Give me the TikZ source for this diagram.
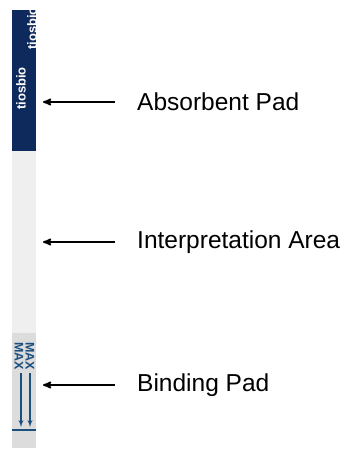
\documentclass[tikz,border=0pt]{standalone}
\usepackage{fontspec}
\setmainfont{Liberation Sans}
\usetikzlibrary{arrows}
\usetikzlibrary{positioning}
\usepackage{xcolor}
\definecolor{stripblue}{HTML}{0E2A5C}
\definecolor{areagrey}{HTML}{EFEFEF}
\definecolor{padgrey}{HTML}{DCDCDC}
\definecolor{maxblue}{HTML}{1B4F7E}

\begin{document}
\begin{tikzpicture}[
        x=1pt, y=-1pt,
        lnode/.style={anchor=west, inner sep=0pt, font=\fontsize{24.5}{28}\selectfont},
        brand/.style={rotate=90, anchor=west, inner sep=0pt, text=white, font=\bfseries\fontsize{13}{14}\selectfont},
        maxmark/.style={rotate=-90, anchor=west, inner sep=0pt, text=maxblue, font=\bfseries\fontsize{12.5}{13}\selectfont},
        pointer/.style={->, >=stealth', line width=1.8pt, shorten <=22pt},
        flow/.style={-latex', maxblue, line width=1.3pt}
    ]
        \useasboundingbox (0,0) rectangle (349,450);

        % the strip
        \fill[stripblue] (12,10) rectangle (36,151);
        \fill[areagrey] (12,151) rectangle (36,333);
        \fill[padgrey] (12,333) rectangle (36,448);
        \begin{scope}
            \clip (12,10) rectangle (36,151);
            \node[brand] (logoA) at (21,110) {tiosbio};
            \node[brand] (logoB) at (32,50) {tiosbio};
        \end{scope}
        \node[maxmark] (maxA) at (19,342) {MAX};
        \node[maxmark] (maxB) at (30,342) {MAX};
        \coordinate (flowA) at (21,427);
        \coordinate (flowB) at (30,427);
        \draw[flow] (21,373) -- (flowA);
        \draw[flow] (30,373) -- (flowB);
        \draw[maxblue, line width=1.5pt] (12,430) -- (36,430);

        % labels
        \node[lnode] (absorb) at (137,102) {Absorbent Pad};
        \node[lnode] (interp) at (137,242) {Interpretation Area};
        \node[lnode] (binding) at (137,385) {Binding Pad};
        \coordinate (absorbtip) at (43,102);
        \coordinate (interptip) at (43,242);
        \coordinate (bindingtip) at (43,385);

        \path (absorb) edge[pointer] (absorbtip)
            (interp) edge[pointer] (interptip)
            (binding) edge[pointer] (bindingtip);
    \end{tikzpicture}
\end{document}
